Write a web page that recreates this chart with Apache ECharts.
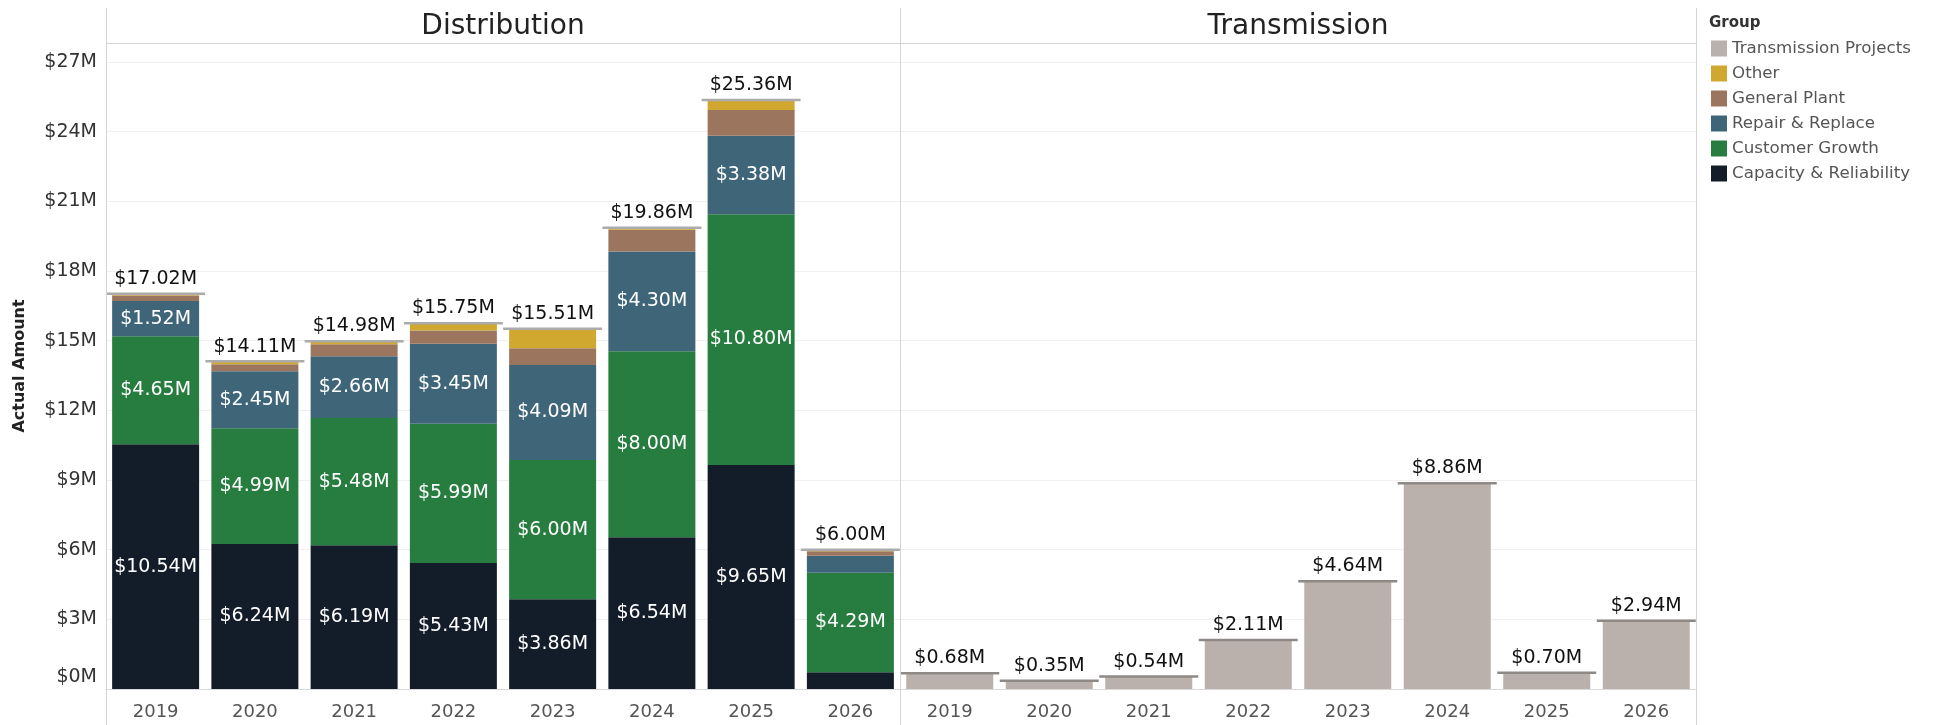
<!DOCTYPE html>
<html>
<head>
<meta charset="utf-8">
<script src="https://cdn.jsdelivr.net/npm/echarts@6/dist/echarts.min.js"></script>
<style>
  html, body { margin: 0; padding: 0; background: #fff; }
  #main { width: 1938px; height: 725px; }
</style>
</head>
<body>
<div id="main"></div>
<script>
var chartDom = document.getElementById('main');
var myChart = echarts.init(chartDom);
var option;

// years shown in both panels
const years = ['2019', '2020', '2021', '2022', '2023', '2024', '2025', '2026'];

// Distribution stack, $M
const capacity = [10.54, 6.24, 6.19, 5.43, 3.86, 6.54, 9.65, 0.72];
const customerGrowth = [4.65, 4.99, 5.48, 5.99, 6.00, 8.00, 10.80, 4.29];
const repairReplace = [1.52, 2.45, 2.66, 3.45, 4.09, 4.30, 3.38, 0.73];
const generalPlant = [0.24, 0.30, 0.52, 0.57, 0.72, 0.94, 1.10, 0.19];
const other = [0.07, 0.13, 0.13, 0.31, 0.84, 0.08, 0.43, 0.07];

// Transmission, $M
const transmission = [0.68, 0.35, 0.54, 2.11, 4.64, 8.86, 0.70, 2.94];

const distTotals = years.map(function (y, i) {
  return +(capacity[i] + customerGrowth[i] + repairReplace[i] + generalPlant[i] + other[i]).toFixed(2);
});

const FONT = 'DejaVu Sans';
const money = function (v) {
  return '$' + v.toFixed(2) + 'M';
};

const innerLabel = {
  show: true,
  position: 'inside',
  color: '#fff',
  fontSize: 19,
  fontFamily: FONT,
  formatter: function (p) {
    return p.value >= 1 ? money(p.value) : '';
  }
};

const stackBar = function (name, data, color, label) {
  return {
    name: name,
    type: 'bar',
    stack: 'dist',
    xAxisIndex: 0,
    yAxisIndex: 0,
    barWidth: 87,
    data: data,
    itemStyle: { color: color },
    label: label ? innerLabel : { show: false },
    emphasis: { disabled: true }
  };
};

const totalMark = function (data, idx, color) {
  return {
    type: 'scatter',
    xAxisIndex: idx,
    yAxisIndex: idx,
    symbol: 'rect',
    symbolSize: [99, 2.5],
    data: data,
    z: 5,
    silent: true,
    itemStyle: { color: color, opacity: 1 },
    label: {
      show: true,
      position: 'top',
      distance: 4,
      color: '#111',
      fontSize: 19,
      fontFamily: FONT,
      formatter: function (p) {
        return money(p.value);
      }
    }
  };
};

const xAxisBase = function (idx) {
  return {
    type: 'category',
    gridIndex: idx,
    data: years,
    axisLine: { show: true, lineStyle: { color: '#d9d9d9' } },
    axisTick: { show: false },
    axisLabel: { color: '#555', fontSize: 18, fontFamily: FONT, margin: 14 }
  };
};

const yAxisBase = function (idx) {
  return {
    type: 'value',
    gridIndex: idx,
    min: 0,
    max: 27.82,
    interval: 3,
    axisLine: { show: false },
    axisTick: { show: false },
    splitLine: { lineStyle: { color: '#f0f0f0' } },
    axisLabel: {
      show: idx === 0,
      showMaxLabel: false,
      color: '#333',
      fontSize: 19,
      fontFamily: FONT,
      margin: 9,
      formatter: function (v) {
        // the zero label sits a little above its gridline
        return v === 0 ? '{z|$0M}' : '$' + v + 'M';
      },
      rich: {
        z: { fontSize: 19, fontFamily: FONT, color: '#333', padding: [0, 0, 24, 0] }
      }
    }
  };
};

const vline = function (x) {
  return {
    type: 'line',
    shape: { x1: x, y1: 8, x2: x, y2: 725 },
    style: { stroke: '#d4d4d4', lineWidth: 1 },
    z: 10
  };
};

option = {
  backgroundColor: '#fff',
  animation: false,
  textStyle: { fontFamily: FONT },
  grid: [
    { left: 106, top: 43, width: 794, height: 646 },
    { left: 900, top: 43, width: 796, height: 646 }
  ],
  xAxis: [xAxisBase(0), xAxisBase(1)],
  yAxis: [
    Object.assign(yAxisBase(0), {
      name: 'Actual Amount',
      nameLocation: 'middle',
      nameGap: 78,
      nameTextStyle: { fontSize: 16, fontWeight: 'bold', color: '#222', fontFamily: FONT }
    }),
    yAxisBase(1)
  ],
  legend: {
    orient: 'vertical',
    left: 1711,
    top: 40,
    padding: 0,
    itemWidth: 16,
    itemHeight: 16,
    itemGap: 8,
    icon: 'rect',
    selectedMode: false,
    textStyle: { color: '#555', fontSize: 16.7, fontFamily: FONT },
    data: ['Transmission Projects', 'Other', 'General Plant', 'Repair & Replace', 'Customer Growth', 'Capacity & Reliability']
  },
  graphic: [
    vline(106.5),
    vline(900.5),
    vline(1696.5),
    {
      type: 'line',
      shape: { x1: 106, y1: 43.5, x2: 1696, y2: 43.5 },
      style: { stroke: '#d4d4d4', lineWidth: 1 },
      z: 10
    },
    {
      type: 'text',
      x: 503,
      y: 27,
      style: { text: 'Distribution', textAlign: 'center', textVerticalAlign: 'middle', fontSize: 28, fontFamily: FONT, fill: '#222' }
    },
    {
      type: 'text',
      x: 1298,
      y: 27,
      style: { text: 'Transmission', textAlign: 'center', textVerticalAlign: 'middle', fontSize: 28, fontFamily: FONT, fill: '#222' }
    },
    {
      type: 'text',
      x: 1709,
      y: 23,
      style: { text: 'Group', textAlign: 'left', textVerticalAlign: 'middle', fontSize: 15, fontWeight: 'bold', fontFamily: FONT, fill: '#333' }
    }
  ],
  series: [
    stackBar('Capacity & Reliability', capacity, '#131d2a', true),
    stackBar('Customer Growth', customerGrowth, '#267d3f', true),
    stackBar('Repair & Replace', repairReplace, '#3f6678', true),
    stackBar('General Plant', generalPlant, '#9c755f', false),
    stackBar('Other', other, '#d0a72f', false),
    {
      name: 'Transmission Projects',
      type: 'bar',
      xAxisIndex: 1,
      yAxisIndex: 1,
      barWidth: 87,
      data: transmission,
      itemStyle: { color: '#bab0ac' },
      emphasis: { disabled: true }
    },
    totalMark(distTotals, 0, '#ababab'),
    totalMark(transmission, 1, '#8f8986')
  ]
};

option && myChart.setOption(option);
</script>
</body>
</html>
